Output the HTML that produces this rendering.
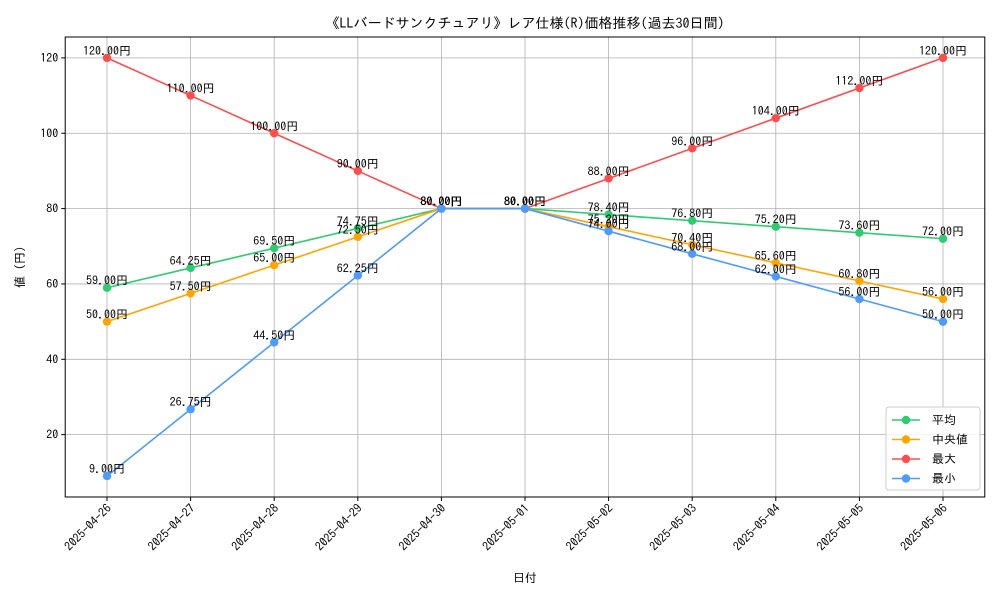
<!DOCTYPE html>
<html><head><meta charset="utf-8"><style>
body{margin:0;background:#fff}
svg text{font-family:"IPAGothic","Noto Sans CJK JP","Liberation Sans",sans-serif}
</style></head><body>
<svg id="chart" width="1000" height="600" viewBox="0 0 1000 600" xmlns="http://www.w3.org/2000/svg">
<rect width="1000" height="600" fill="#fff"/>
<text x="525" y="28" text-anchor="middle" font-size="14">《LLバードサンクチュアリ》レア仕様(R)価格推移(過去30日間)</text>
<g id="grid"></g><g id="axes"></g><g id="series"></g>
<text x="525" y="582" text-anchor="middle" font-size="12">日付</text>
<text transform="translate(24,267) rotate(-90)" text-anchor="middle" font-size="12">値 (円)</text>
<g>
<rect x="886" y="407" width="94" height="83" rx="3" fill="#fff" fill-opacity="0.8" stroke="#ccc"/>
<g id="legend-items"></g>
</g>
</svg>
<script>
const categories=["2025-04-26","2025-04-27","2025-04-28","2025-04-29","2025-04-30","2025-05-01","2025-05-02","2025-05-03","2025-05-04","2025-05-05","2025-05-06"];
const avgValues=[59,64.25,69.5,74.75,80,80,78.4,76.8,75.2,73.6,72];
const medianValues=[50,57.5,65,72.5,80,80,75.2,70.4,65.6,60.8,56];
const maxValues=[120,110,100,90,80,80,88,96,104,112,120];
const minValues=[9,26.75,44.5,62.25,80,80,74,68,62,56,50];
const yTicks=[20,40,60,80,100,120];
const seriesNames=["平均","中央値","最大","最小"];
const seriesColors=["#2ecc71","#ffa500","#ff4c4c","#4c9bff"];
const NS="http://www.w3.org/2000/svg";
const L=65.2,R=984.8,T=37,B=497,ymin=3.45,ymax=125.55;
const x=i=>L+(i+0.5)*(R-L)/categories.length;
const y=v=>B-(v-ymin)/(ymax-ymin)*(B-T);
function mk(tag,attrs,parent,txt){const e=document.createElementNS(NS,tag);for(const k in attrs)e.setAttribute(k,attrs[k]);if(txt!==undefined)e.textContent=txt;parent.appendChild(e);return e;}
const grid=document.getElementById('grid'),axes=document.getElementById('axes'),ser=document.getElementById('series');
categories.forEach((c,i)=>{
 const g=mk('line',{x1:x(i),x2:x(i),y1:T,y2:B,stroke:'#b0b0b0','stroke-width':0.8},grid);
 
 
 const tk=mk('line',{x1:x(i),x2:x(i),y1:B,y2:B+4,stroke:'#000'},axes);
 
 
 const t=mk('text',{x:0,y:0,'font-size':12,'text-anchor':'end',transform:`translate(${x(i)+5},${B+12}) rotate(-45)`},axes,c);
 
 
});
yTicks.forEach(v=>{
 const g=mk('line',{x1:L,x2:R,y1:y(v),y2:y(v),stroke:'#b0b0b0','stroke-width':0.8},grid);
 
 
 const tk=mk('line',{x1:L-4,x2:L,y1:y(v),y2:y(v),stroke:'#000'},axes);
 
 
 const t=mk('text',{x:L-7,y:y(v)+4,'font-size':12,'text-anchor':'end'},axes,v);
 
 
});
const frame=mk('rect',{x:L,y:T,width:R-L,height:B-T,fill:'none',stroke:'#000','stroke-width':1},axes);


const allSeries=[avgValues,medianValues,maxValues,minValues];
allSeries.forEach((vals,s)=>{
 const g=mk('g',{},ser);
 
 
 const p=mk('polyline',{points:vals.map((v,i)=>x(i)+','+y(v)).join(' '),fill:'none',stroke:seriesColors[s],'stroke-width':1.6},g);
 
 
 vals.forEach((v,i)=>{
  const c=mk('circle',{cx:x(i),cy:y(v),r:4.2,fill:seriesColors[s]},g);
  
  
  const t=mk('text',{x:x(i),y:y(v)-3,'font-size':12,'text-anchor':'middle',fill:'#000'},g,v.toFixed(2)+'円');
  
  
 });
});
const li=document.getElementById('legend-items');
seriesNames.forEach((n,s)=>{
 const yy=420+s*19.5;
 const g=mk('g',{},li);
 
 
 mk('line',{x1:892,x2:920,y1:yy,y2:yy,stroke:seriesColors[s],'stroke-width':1.6},g);
 mk('circle',{cx:906,cy:yy,r:4.2,fill:seriesColors[s]},g);
 mk('text',{x:932,y:yy+4,'font-size':12},g,(s==1?' ':'')+n);
});
</script>
</body></html>
